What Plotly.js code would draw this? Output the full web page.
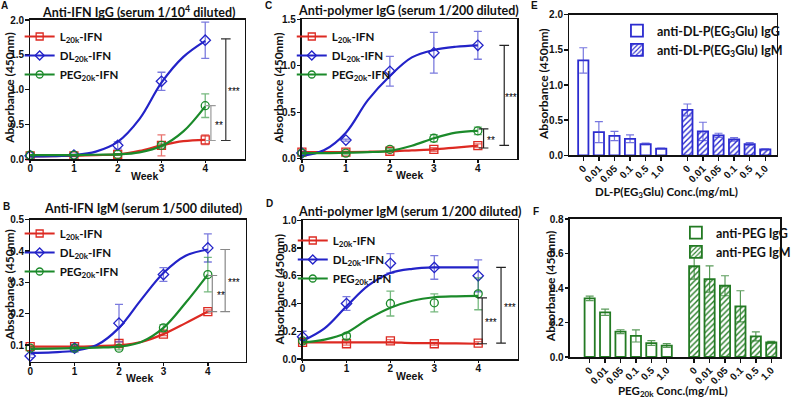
<!DOCTYPE html>
<html><head><meta charset="utf-8">
<script src="https://cdn.plot.ly/plotly-3.0.1.min.js"></script>
<style>html,body{margin:0;padding:0;background:#fff}#chart{width:796px;height:401px}</style>
</head><body><div id="chart"></div>
<script>
// ---------- DATA ----------
const weeks = [0, 1, 2, 3, 4];
const fitWeeks = [0, 0.5, 1, 1.5, 2, 2.5, 3, 3.5, 4];
const seriesNames = ['L<sub>20k</sub>-IFN', 'DL<sub>20k</sub>-IFN', 'PEG<sub>20k</sub>-IFN'];

// Panel A: Anti-IFN IgG (serum 1/10^4)
const A_L = [0.05, 0.05, 0.07, 0.20, 0.28];
const A_L_err = [0.01, 0.01, 0.01, 0.15, 0.07];
const A_DL = [0.05, 0.06, 0.20, 1.12, 1.71];
const A_DL_err = [0.01, 0.01, 0.05, 0.13, 0.26];
const A_PEG = [0.06, 0.06, 0.07, 0.20, 0.77];
const A_PEG_err = [0.01, 0.01, 0.01, 0.02, 0.17];
const A_L_fit = [0.04, 0.045, 0.05, 0.06, 0.07, 0.12, 0.20, 0.26, 0.28];
const A_DL_fit = [0.04, 0.045, 0.06, 0.11, 0.25, 0.58, 1.10, 1.47, 1.70];
const A_PEG_fit = [0.06, 0.06, 0.06, 0.065, 0.07, 0.10, 0.19, 0.40, 0.76];
const A_sigLabels = ['**', '***'];
const A_sigLow = [0.27, 0.27];
const A_sigHigh = [0.77, 1.73];

// Panel B: Anti-IFN IgM (serum 1/500)
const B_L = [0.095, 0.095, 0.105, 0.135, 0.207];
const B_L_err = [0.005, 0.005, 0.005, 0.005, 0.005];
const B_DL = [0.065, 0.09, 0.17, 0.325, 0.41];
const B_DL_err = [0.005, 0.012, 0.06, 0.022, 0.045];
const B_PEG = [0.09, 0.09, 0.09, 0.155, 0.325];
const B_PEG_err = [0.005, 0.005, 0.005, 0.01, 0.055];
const B_L_fit = [0.095, 0.095, 0.095, 0.097, 0.10, 0.11, 0.135, 0.17, 0.207];
const B_DL_fit = [0.075, 0.077, 0.082, 0.10, 0.155, 0.245, 0.33, 0.385, 0.405];
const B_PEG_fit = [0.088, 0.089, 0.09, 0.092, 0.095, 0.11, 0.155, 0.235, 0.325];
const B_sigLabels = ['**', '***'];
const B_sigLow = [0.207, 0.207];
const B_sigHigh = [0.322, 0.405];

// Panel C: Anti-polymer IgG (serum 1/200)
const C_L = [0.07, 0.07, 0.08, 0.10, 0.14];
const C_L_err = [0.01, 0.01, 0.01, 0.02, 0.02];
const C_DL = [0.06, 0.20, 0.94, 1.14, 1.22];
const C_DL_err = [0.01, 0.01, 0.16, 0.22, 0.15];
const C_PEG = [0.06, 0.06, 0.10, 0.22, 0.30];
const C_PEG_err = [0.01, 0.01, 0.01, 0.04, 0.04];
const C_L_fit = [0.07, 0.07, 0.072, 0.075, 0.08, 0.09, 0.10, 0.12, 0.14];
const C_DL_fit = [0.03, 0.09, 0.28, 0.63, 0.89, 1.09, 1.17, 1.205, 1.22];
const C_PEG_fit = [0.06, 0.06, 0.065, 0.07, 0.085, 0.14, 0.22, 0.28, 0.30];
const C_sigLabels = ['**', '***'];
const C_sigLow = [0.115, 0.143];
const C_sigHigh = [0.32, 1.22];

// Panel D: Anti-polymer IgM (serum 1/200)
const D_L = [0.12, 0.11, 0.13, 0.11, 0.115];
const D_L_err = [0.01, 0.01, 0.01, 0.01, 0.01];
const D_DL = [0.16, 0.40, 0.69, 0.66, 0.60];
const D_DL_err = [0.04, 0.05, 0.07, 0.085, 0.115];
const D_PEG = [0.13, 0.165, 0.40, 0.405, 0.47];
const D_PEG_err = [0.01, 0.02, 0.09, 0.065, 0.115];
const D_L_fit = [0.12, 0.12, 0.12, 0.12, 0.12, 0.115, 0.115, 0.112, 0.11];
const D_DL_fit = [0.13, 0.22, 0.38, 0.53, 0.62, 0.65, 0.66, 0.66, 0.66];
const D_PEG_fit = [0.12, 0.14, 0.19, 0.29, 0.37, 0.42, 0.445, 0.452, 0.455];
const D_sigLabels = ['***', '***'];
const D_sigLow = [0.11, 0.115];
const D_sigHigh = [0.44, 0.66];

// Panel E: DL-P(EG3Glu) competition
const concLabels = ['0', '0.01', '0.05', '0.1', '0.5', '1.0'];
const E_IgG = [1.35, 0.33, 0.275, 0.235, 0.16, 0.095];
const E_IgG_err = [0.18, 0.15, 0.065, 0.055, 0.012, 0.008];
const E_IgM = [0.645, 0.34, 0.284, 0.227, 0.16, 0.085];
const E_IgM_err = [0.085, 0.13, 0.03, 0.025, 0.02, 0.008];

// Panel F: PEG20k competition
const F_IgG = [0.34, 0.259, 0.147, 0.122, 0.081, 0.066];
const F_IgG_err = [0.013, 0.018, 0.011, 0.035, 0.014, 0.011];
const F_IgM = [0.526, 0.452, 0.413, 0.294, 0.12, 0.085];
const F_IgM_err = [0.074, 0.076, 0.058, 0.09, 0.026, 0.006];

// ---------- STYLE / LAYOUT ----------
const W = 796, H = 401;
const RED = '#dd2a22', BLUE = '#2323c8', GREEN = '#1b8a2a';
const BAR_BLUE = '#2b2bcf', BAR_GREEN = '#237a23';
const colors = [RED, BLUE, GREEN];
const symbols = ['square-open', 'diamond-open', 'circle-open'];
const errColors = ['rgba(221,42,34,0.65)', 'rgba(35,35,200,0.6)', 'rgba(27,138,42,0.6)'];
const TICKFONT = {family: 'Liberation Sans, Arial, sans-serif', size: 10, color: '#111', weight: 'bold'};
const TXTFAMILY = 'Lato, Liberation Sans, sans-serif';
const px = p => p / W;
const py = p => 1 - p / H;

const linePanels = [
  {ax: '', leg: 'legend', L: A_L, Le: A_L_err, DL: A_DL, DLe: A_DL_err, P: A_PEG, Pe: A_PEG_err,
   fits: [A_L_fit, A_DL_fit, A_PEG_fit], sig: [A_sigLabels, A_sigLow, A_sigHigh],
   sigX: [4.13, 4.47], sigCol: ['#9a9a9a', '#333'], sigTxtDx: 0.18},
  {ax: '2', leg: 'legend2', L: B_L, Le: B_L_err, DL: B_DL, DLe: B_DL_err, P: B_PEG, Pe: B_PEG_err,
   fits: [B_L_fit, B_DL_fit, B_PEG_fit], sig: [B_sigLabels, B_sigLow, B_sigHigh],
   sigX: [4.1, 4.39], sigCol: ['#888', '#888'], sigTxtDx: 0.19},
  {ax: '3', leg: 'legend3', L: C_L, Le: C_L_err, DL: C_DL, DLe: C_DL_err, P: C_PEG, Pe: C_PEG_err,
   fits: [C_L_fit, C_DL_fit, C_PEG_fit], sig: [C_sigLabels, C_sigLow, C_sigHigh],
   sigX: [4.13, 4.6], sigCol: ['#222', '#222'], sigTxtDx: 0.16},
  {ax: '4', leg: 'legend4', L: D_L, Le: D_L_err, DL: D_DL, DLe: D_DL_err, P: D_PEG, Pe: D_PEG_err,
   fits: [D_L_fit, D_DL_fit, D_PEG_fit], sig: [D_sigLabels, D_sigLow, D_sigHigh],
   sigX: [4.09, 4.52], sigCol: ['#222', '#222'], sigTxtDx: 0.2}
];

const traces = [];
const shapes = [];
const annotations = [];

linePanels.forEach(p => {
  const xa = 'x' + p.ax, ya = 'y' + p.ax;
  const vals = [p.L, p.DL, p.P], errs = [p.Le, p.DLe, p.Pe];
  for (let s = 0; s < 3; s++) {
    traces.push({x: fitWeeks, y: p.fits[s], xaxis: xa, yaxis: ya, mode: 'lines',
      line: {color: colors[s], width: 2.2, shape: 'spline', smoothing: 1},
      showlegend: false, hoverinfo: 'skip', cliponaxis: false});
    traces.push({x: weeks, y: vals[s], xaxis: xa, yaxis: ya, mode: 'markers',
      marker: {symbol: symbols[s], size: 8, color: colors[s], line: {width: 1.3, color: colors[s]}},
      error_y: {type: 'data', array: errs[s], visible: true, color: errColors[s], thickness: 1.3, width: 4},
      showlegend: false, cliponaxis: false, name: seriesNames[s]});
    traces.push({x: [null], y: [null], xaxis: xa, yaxis: ya, mode: 'lines+markers', name: seriesNames[s],
      legend: p.leg, line: {color: colors[s], width: 2.2},
      marker: {symbol: symbols[s], size: 7, color: colors[s], line: {width: 1.3, color: colors[s]}}});
  }
  const [labels, lo, hi] = p.sig;
  labels.forEach((lab, i) => {
    const x0 = p.sigX[i], c = p.sigCol[i], cw = 0.11;
    const base = {type: 'line', xref: xa, yref: ya, line: {color: c, width: 1.2}};
    shapes.push(Object.assign({}, base, {x0: x0, x1: x0, y0: lo[i], y1: hi[i]}));
    shapes.push(Object.assign({}, base, {x0: x0 - cw, x1: x0 + cw, y0: lo[i], y1: lo[i]}));
    shapes.push(Object.assign({}, base, {x0: x0 - cw, x1: x0 + cw, y0: hi[i], y1: hi[i]}));
    annotations.push({xref: xa, yref: ya, x: x0 + p.sigTxtDx, y: (lo[i] + hi[i]) / 2, text: lab,
      xanchor: 'center', yanchor: 'middle',
      showarrow: false, font: {family: 'Liberation Sans, Arial', size: 10, color: '#000'}, yshift: -2});
  });
});

// Bar panels
const gapE = 6.68, gapF = 6.78;
const xE_G = concLabels.map((_, i) => i), xE_M = concLabels.map((_, i) => i + gapE);
const xF_G = concLabels.map((_, i) => i), xF_M = concLabels.map((_, i) => i + gapF);
function barTrace(x, y, err, ax, leg, name, col, hatched, errCol) {
  const t = {type: 'bar', x: x, y: y, xaxis: 'x' + ax, yaxis: 'y' + ax, name: name, legend: leg,
    width: 0.66, marker: {color: '#ffffff', line: {color: col, width: 1.8}},
    error_y: {type: 'data', array: err, visible: true, color: errCol, thickness: 1.2, width: 4}};
  if (hatched) t.marker.pattern = {shape: '/', fgcolor: col, bgcolor: '#ffffff', size: 4, solidity: 0.35};
  return t;
}
traces.push(barTrace(xE_G, E_IgG, E_IgG_err, '5', 'legend5', 'anti-DL-P(EG<sub>3</sub>Glu) IgG', BAR_BLUE, false, 'rgba(60,60,210,0.7)'));
traces.push(barTrace(xE_M, E_IgM, E_IgM_err, '5', 'legend5', 'anti-DL-P(EG<sub>3</sub>Glu) IgM', BAR_BLUE, true, 'rgba(60,60,210,0.7)'));
traces.push(barTrace(xF_G, F_IgG, F_IgG_err, '6', 'legend6', 'anti-PEG IgG', BAR_GREEN, false, 'rgba(35,122,35,0.75)'));
traces.push(barTrace(xF_M, F_IgM, F_IgM_err, '6', 'legend6', 'anti-PEG IgM', BAR_GREEN, true, 'rgba(35,122,35,0.75)'));

// axes
const axBase = {showline: true, mirror: true, linecolor: '#111', linewidth: 1.6, ticks: 'outside',
  ticklen: 4, tickwidth: 1.4, tickcolor: '#111', showgrid: false, zeroline: false, tickfont: TICKFONT, fixedrange: true};
const boxes = {
  '':  {b: [30.7, 20, 249, 159.3], xr: [0, 4.9], yr: [0, 2], dt: 0.5},
  '2': {b: [30.7, 219.7, 250, 361.7], xr: [0, 4.85], yr: [0.047, 0.5], dt: 0.1},
  '3': {b: [307.3, 19.3, 526.7, 158.7], xr: [0, 4.9], yr: [0, 1.5], dt: 0.5},
  '4': {b: [308, 220.3, 527, 359], xr: [0, 4.9], yr: [0, 1.0], dt: 0.2},
  '5': {b: [579.3, 14.7, 790.7, 155.3], xr: [-0.91, 12.42], yr: [0, 2], dt: 0.5},
  '6': {b: [580, 219, 794, 357], xr: [-1.29, 12.35], yr: [0, 0.8], dt: 0.2}
};
const layout = {width: W, height: H, margin: {l: 0, r: 0, t: 0, b: 0}, paper_bgcolor: '#fff', plot_bgcolor: '#fff',
  bargap: 0, shapes: shapes, annotations: annotations, font: {family: TXTFAMILY}};
Object.keys(boxes).forEach(k => {
  const bx = boxes[k];
  const xa = Object.assign({}, axBase, {domain: [px(bx.b[0]), px(bx.b[2])], range: bx.xr, anchor: 'y' + k});
  const ya = Object.assign({}, axBase, {domain: [py(bx.b[3]), py(bx.b[1])], range: bx.yr, anchor: 'x' + k,
    dtick: bx.dt, tick0: 0, tickformat: '.1f', ticklen: 3.5, ticklabelstandoff: -1});
  if (k === '5' || k === '6') {
    const xs = k === '5' ? xE_G.concat(xE_M) : xF_G.concat(xF_M);
    xa.tickvals = xs; xa.ticktext = concLabels.concat(concLabels); xa.tickangle = -45;
    xa.tickfont = Object.assign({}, TICKFONT, {size: 10});
    xa.ticklabelstandoff = -2;
  } else {
    xa.dtick = 1; xa.tick0 = 0; xa.ticklen = 2.5; xa.ticklabelstandoff = -3;
  }
  layout['xaxis' + k] = xa;
  layout['yaxis' + k] = ya;
});

// legends
const legBase = {bgcolor: 'rgba(0,0,0,0)', borderwidth: 0, xanchor: 'left', yanchor: 'top',
  font: {family: TXTFAMILY, size: 11.5, color: '#111', weight: 'bold'}, tracegroupgap: 0, itemclick: false};
layout.legend = Object.assign({}, legBase, {x: px(20), y: py(22)});
layout.legend2 = Object.assign({}, legBase, {x: px(20), y: py(219)});
layout.legend3 = Object.assign({}, legBase, {x: px(297), y: py(22)});
layout.legend4 = Object.assign({}, legBase, {x: px(298), y: py(226)});
layout.legend5 = Object.assign({}, legBase, {x: px(628), y: py(16), font: Object.assign({}, legBase.font, {size: 12.5})});
layout.legend6 = Object.assign({}, legBase, {x: px(688), y: py(218), font: Object.assign({}, legBase.font, {size: 12.5})});

// titles and labels (text annotations)
const txt = (x, y, text, size, extra) => annotations.push(Object.assign({xref: 'paper', yref: 'paper', x: px(x), y: py(y),
  xanchor: 'center', yanchor: 'middle',
  text: text, showarrow: false, font: {family: TXTFAMILY, size: size, color: '#111', weight: 'bold'}}, extra || {}));
txt(140.5, 11.5, 'Anti-IFN IgG (serum 1/10<sup>4</sup> diluted)', 12.5);
txt(416, 10, 'Anti-polymer IgG (serum 1/200 diluted)', 12.5);
txt(145.7, 209, 'Anti-IFN IgM (serum 1/500 diluted)', 12.5);
txt(416.7, 211, 'Anti-polymer IgM (serum 1/200 diluted)', 12.5);
const ylab = 'Absorbance (450nm)';
txt(9, 88, ylab, 12, {textangle: -90});
txt(9, 285, ylab, 12, {textangle: -90});
txt(283, 88, ylab, 12, {textangle: -90});
txt(283.5, 290, ylab, 12, {textangle: -90});
txt(552.7, 84, ylab, 12, {textangle: -90});
txt(560, 286, ylab, 12, {textangle: -90});
const wk = {family: 'Liberation Sans, Arial', size: 10.5, color: '#111', weight: 'bold'};
txt(147, 176.5, 'Week', 10.5, {font: wk});
txt(141.7, 377.5, 'Week', 10.5, {font: wk});
txt(416.7, 174.5, 'Week', 10.5, {font: wk});
txt(417, 376, 'Week', 10.5, {font: wk});
txt(678, 192.5, 'DL-P(EG<sub>3</sub>Glu) Conc.(mg/mL)', 11.5);
txt(684.7, 391.5, 'PEG<sub>20k</sub> Conc.(mg/mL)', 11.5);
const lf = {family: 'Liberation Sans, Arial', size: 10, color: '#111', weight: 'bold'};
txt(5, 5, 'A', 10, {font: lf});
txt(273, 5, 'C', 10, {font: lf});
txt(7, 206, 'B', 10, {font: lf});
txt(274, 203, 'D', 10, {font: lf});
txt(544, 5, 'E', 10, {font: lf});
txt(546, 211, 'F', 10, {font: lf});

Plotly.newPlot('chart', traces, layout, {staticPlot: true, displayModeBar: false});
</script>
</body></html>
